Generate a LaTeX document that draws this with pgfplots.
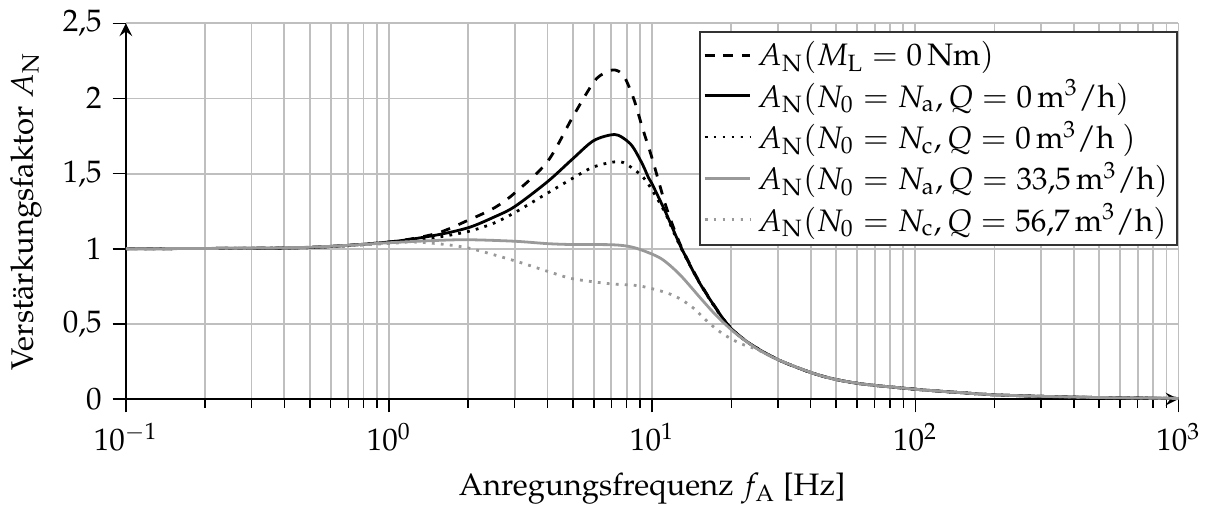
\documentclass[border=0pt]{standalone}
\usepackage[T1]{fontenc}
\usepackage{mathpazo}
\usepackage{pgfplots}
\pgfplotsset{compat=1.18}
\begin{document}
\begin{tikzpicture}
\begin{axis}[
  scale only axis,
  width=339pt, height=121pt,
  xmode=log, xmin=0.1, xmax=1000,
  ymin=0, ymax=2.5,
  ytick={0,0.5,1,1.5,2,2.5},
  yticklabel style={/pgf/number format/use comma},
  axis lines=left,
  axis line style={line width=0.8pt,-stealth},
  tick align=outside,
  tick style={black, line width=0.5pt},
  xmajorgrids, xminorgrids, ymajorgrids,
  grid style={black!25, line width=0.6pt},
  minor grid style={black!25, line width=0.6pt},
  xlabel={Anregungsfrequenz $f_\mathrm{A}$ [Hz]},
  ylabel={Verst\"arkungsfaktor $A_\mathrm{N}$},
  legend cell align=left,
  legend image post style={xscale=0.85},
  legend style={at={(1,0.98)}, anchor=north east, draw=black!80, line width=0.8pt, inner sep=1pt, row sep=-1pt},
]
\addplot[black, dashed, line width=0.9pt, smooth] coordinates {
(0.1,1.0) (0.2,1.002) (0.5,1.01) (1,1.045) (1.5,1.10) (2,1.19) (2.5,1.27) (3,1.37) (4,1.58) (5,1.88) (6,2.11) (6.6,2.17) (7.2,2.19) (7.8,2.15) (8.5,2.0) (9.2,1.80) (10,1.60) (10.5,1.47) (11.2,1.30) (12,1.15) (13,1.0) (15,0.79) (17.4,0.61) (19.8,0.476) (23.6,0.366) (30.6,0.256) (43.4,0.157) (60,0.105) (100,0.065) (150,0.042) (200,0.028) (300,0.018) (500,0.010) (1000,0.004)};
\addlegendentry{$A_\mathrm{N}(M_\mathrm{L} = 0\,\mathrm{Nm})$}
\addplot[black, line width=0.9pt, smooth] coordinates {
(0.1,1.0) (0.2,1.002) (0.5,1.008) (1,1.045) (1.5,1.09) (2,1.14) (2.5,1.21) (3,1.28) (4,1.446) (5,1.60) (6,1.72) (7.2,1.76) (8,1.72) (8.5,1.67) (9.2,1.56) (9.7,1.47) (10,1.43) (11.2,1.25) (12,1.13) (13,0.994) (15,0.785) (17.4,0.608) (19.8,0.476) (23.6,0.366) (30.6,0.256) (43.4,0.157) (60,0.105) (100,0.065) (150,0.042) (200,0.028) (300,0.018) (500,0.010) (1000,0.004)};
\addlegendentry{$A_\mathrm{N}(N_0 = N_\mathrm{a}, Q = 0\,\mathrm{m^3/h})$}
\addplot[black, dotted, line width=0.9pt, smooth] coordinates {
(0.1,1.0) (0.2,1.002) (0.5,1.008) (1,1.04) (1.5,1.075) (2,1.115) (2.5,1.17) (3,1.24) (4,1.37) (5,1.47) (6,1.545) (7.5,1.58) (8.5,1.53) (9.3,1.47) (10,1.39) (11.2,1.24) (12,1.12) (13,0.99) (15,0.785) (17.4,0.605) (19.8,0.476) (23.6,0.366) (30.6,0.256) (43.4,0.157) (60,0.105) (100,0.065) (150,0.042) (200,0.028) (300,0.018) (500,0.010) (1000,0.004)};
\addlegendentry{$A_\mathrm{N}(N_0 = N_\mathrm{c}, Q = 0\,\mathrm{m^3/h}\ )$}
\addplot[black!40, line width=0.9pt, smooth] coordinates {
(0.1,1.0) (0.2,1.002) (0.5,1.01) (1,1.04) (1.5,1.055) (2,1.06) (3,1.05) (4,1.034) (5,1.028) (6.9,1.027) (8,1.018) (9,0.995) (10.8,0.935) (12.7,0.83) (15.2,0.675) (17,0.58) (18.9,0.50) (21,0.43) (25,0.335) (30.6,0.256) (43.4,0.157) (60,0.105) (100,0.065) (150,0.042) (200,0.028) (300,0.018) (500,0.010) (1000,0.004)};
\addlegendentry{$A_\mathrm{N}(N_0 = N_\mathrm{a}, Q = 33{,}5\,\mathrm{m^3/h})$}
\addplot[black!40, dotted, line width=0.9pt, smooth] coordinates {
(0.1,1.0) (0.2,1.002) (0.5,1.01) (1,1.035) (1.2,1.045) (1.5,1.035) (2,1.005) (3,0.92) (4,0.85) (5,0.80) (6.9,0.767) (9,0.752) (11.75,0.697) (14,0.62) (16.6,0.50) (18.7,0.43) (21.6,0.37) (25,0.33) (30.6,0.256) (43.4,0.157) (60,0.105) (100,0.065) (150,0.042) (200,0.028) (300,0.018) (500,0.010) (1000,0.004)};
\addlegendentry{$A_\mathrm{N}(N_0 = N_\mathrm{c}, Q = 56{,}7\,\mathrm{m^3/h})$}
\end{axis}
\end{tikzpicture}
\end{document}
